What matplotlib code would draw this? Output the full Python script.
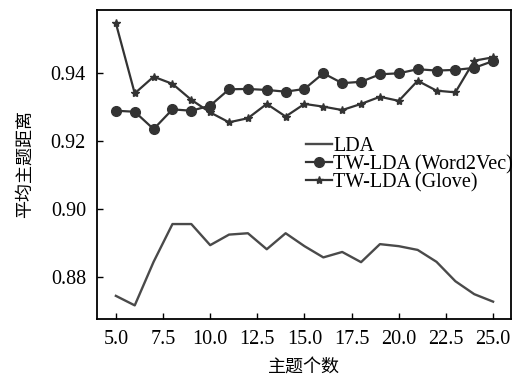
import numpy as np
import matplotlib.pyplot as plt

plt.rcParams['font.family'] = ['Liberation Serif', 'Noto Sans CJK SC']

topics = list(range(5, 26))
lda = [0.8745, 0.8717, 0.8845, 0.8956, 0.8956, 0.8894, 0.8925, 0.8929, 0.8882, 0.8929,
       0.8891, 0.8858, 0.8874, 0.8844, 0.8897, 0.8891, 0.8880, 0.8845, 0.8788, 0.8750, 0.8728]
word2vec = [0.9289, 0.9286, 0.9235, 0.9293, 0.9289, 0.9304, 0.9352, 0.9353, 0.9350, 0.9345,
            0.9353, 0.9399, 0.9370, 0.9374, 0.9396, 0.9399, 0.9411, 0.9407, 0.9409, 0.9415, 0.9435]
glove = [0.9546, 0.9340, 0.9389, 0.9368, 0.9321, 0.9284, 0.9255, 0.9267, 0.9309, 0.9272,
         0.9309, 0.9301, 0.9291, 0.9309, 0.9330, 0.9318, 0.9377, 0.9348, 0.9343, 0.9436, 0.9446]

fig = plt.figure(figsize=(5.18, 3.83), dpi=100)
ax = fig.add_axes([0.1873, 0.1671, 0.7992, 0.8068])

ax.plot(topics, lda, color='#4a4a4a', lw=1.7, label='LDA')
ax.plot(topics, word2vec, color='#333333', lw=1.6, marker='o', ms=7, label='TW-LDA (Word2Vec)')
ax.plot(topics, glove, color='#333333', lw=1.6, marker='*', ms=6, label='TW-LDA (Glove)')

ax.set_xlim(4.0, 25.95)
ax.set_ylim(0.8677, 0.9585)
ax.set_xticks([5.0, 7.5, 10.0, 12.5, 15.0, 17.5, 20.0, 22.5, 25.0])
ax.set_xticklabels(['5.0', '7.5', '10.0', '12.5', '15.0', '17.5', '20.0', '22.5', '25.0'])
ax.set_yticks([0.88, 0.90, 0.92, 0.94])
ax.set_yticklabels(['0.88', '0.90', '0.92', '0.94'])
ax.tick_params(direction='in', length=4, width=1, labelsize=14.5, pad=8)
for s in ax.spines.values():
    s.set_linewidth(1.3)

ax.set_xlabel('主题个数', fontsize=13, labelpad=7)
ax.set_ylabel('平均主题距离', fontsize=13, labelpad=12)

ax.legend(loc='upper right', bbox_to_anchor=(1.005, 0.59), frameon=False,
          fontsize=14.5, handlelength=1.3, handletextpad=0.05, labelspacing=-0.05,
          borderpad=0, borderaxespad=0)

fig.savefig('out.png', dpi=100)
